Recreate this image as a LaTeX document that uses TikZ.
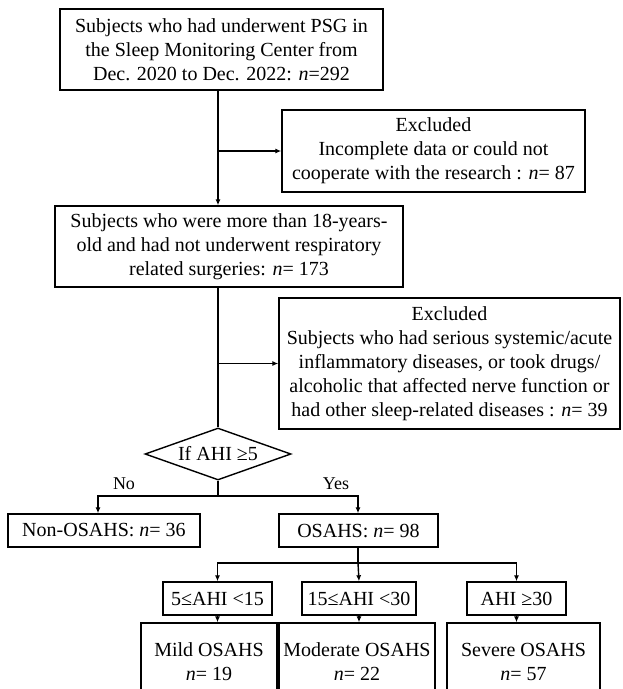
\documentclass[tikz,border=0pt]{standalone}
\usepackage{fontspec}
\setmainfont{Liberation Serif}
\usetikzlibrary{shapes.geometric,arrows.meta}
\begin{document}
\begin{tikzpicture}[x=1pt,y=-1pt,
  every node/.style={inner sep=0pt,align=center,font=\fontsize{20}{24}\selectfont},
  box/.style={draw,line width=1.4pt},
  lbl/.style={font=\fontsize{18}{20}\selectfont},
  conn/.style={line width=1.4pt},
  arr/.style={conn,-{Latex[length=6pt,width=5pt]}}]
\useasboundingbox (0,0) rectangle (622,689);
\clip (0,0) rectangle (622,689);
\fill[white] (0,0) rectangle (622,689);
% nodes
\node[box,minimum width=323pt,minimum height=81pt] (box1) at (221.5,49.5)
  {Subjects who had underwent PSG in\\the Sleep Monitoring Center from\\Dec. 2020 to Dec. 2022: \textit{n}=292};
\node[box,minimum width=303pt,minimum height=82pt] (excl1) at (433.5,151)
  {Excluded\\Incomplete data or could not\\cooperate with the research : \textit{n}= 87};
\node[box,minimum width=348pt,minimum height=81pt] (box2) at (229,246.5)
  {Subjects who were more than 18-years-\\old and had not underwent respiratory\\related surgeries: \textit{n}= 173};
\node[box,minimum width=341pt,minimum height=131pt] (excl2) at (449.5,363.5)
  {Excluded\\Subjects who had serious systemic/acute\\inflammatory diseases, or took drugs/\\alcoholic that affected nerve function or\\had other sleep-related diseases : \textit{n}= 39};
\node[box,diamond,aspect=2.8,minimum width=146pt,minimum height=52pt] (dia) at (218,454) {If AHI ≥5};
\node[box,minimum width=192pt,minimum height=33pt] (non) at (104,530.5) {Non-OSAHS: \textit{n}= 36};
\node[box,minimum width=159pt,minimum height=33pt] (osahs) at (358.5,530.5) {OSAHS: \textit{n}= 98};
\node[box,minimum width=109pt,minimum height=33pt] (ca) at (217.5,598.5) {5≤AHI <15};
\node[box,minimum width=114pt,minimum height=33pt] (cb) at (359,598.5) {15≤AHI <30};
\node[box,minimum width=99pt,minimum height=33pt] (cc) at (516.5,598.5) {AHI ≥30};
\node[box,minimum width=136pt,minimum height=77pt] (mild) at (209,661.5) {Mild OSAHS\\\textit{n}= 19};
\node[box,minimum width=156pt,minimum height=77pt] (mod) at (357,661.5) {Moderate OSAHS\\\textit{n}= 22};
\node[box,minimum width=153pt,minimum height=77pt] (sev) at (523.5,661.5) {Severe OSAHS\\\textit{n}= 57};
\node[lbl] (no) at (124,484) {No};
\node[lbl] (yes) at (336,484) {Yes};
% coordinates
\coordinate (trunk) at (218,0);
\coordinate (j1) at (218,496);
\coordinate (nox) at (98,496);
\coordinate (yesx) at (358,496);
\coordinate (j2) at (358,563);
\coordinate (j2l) at (217.5,563);
\coordinate (j2r) at (516.5,563);
% connectors
\draw[arr] (trunk |- box1.south) -- (trunk |- box2.north);
\draw[arr] (trunk |- excl1.west) -- (excl1.west);
\draw[conn] (trunk |- box2.south) -- (dia.north);
\draw[arr] (trunk |- excl2.west) -- (excl2.west);
\draw[conn] (dia.south) -- (j1);
\draw[arr] (j1) -- (nox) -- (nox |- non.north);
\draw[arr] (j1) -- (yesx) -- (yesx |- osahs.north);
\draw[conn] (yesx |- osahs.south) -- (j2);
\draw[arr] (j2) -- (j2l) -- (ca.north);
\draw[arr] (j2) -- (cb.north);
\draw[arr] (j2) -- (j2r) -- (cc.north);
\draw[arr] (ca.south) -- (ca.south |- mild.north);
\draw[arr] (cb.south) -- (cb.south |- mod.north);
\draw[arr] (cc.south) -- (cc.south |- sev.north);
\end{tikzpicture}
\end{document}
